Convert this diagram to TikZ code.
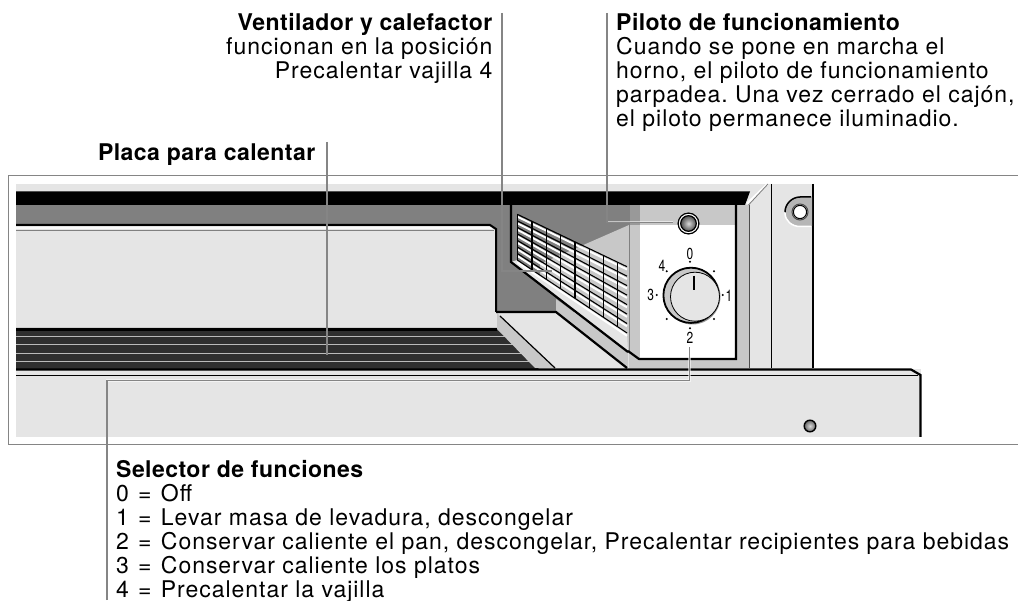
\documentclass[tikz,border=0pt]{standalone}
\usepackage{fontspec}
\setmainfont{TeX Gyre Heros}
\newfontfamily\reg[LetterSpace=4.2]{TeX Gyre Heros}
\newfontfamily\bld[LetterSpace=2.0]{TeX Gyre Heros Bold}
\newcommand{\eqsign}{\hspace{1.9pt}=\hspace{1.9pt}}
\definecolor{pale}{HTML}{E5E5E5}
\definecolor{midg}{HTML}{C8C8C8}
\definecolor{darkg}{HTML}{808080}
\definecolor{coal}{HTML}{2F2F2F}
\definecolor{leadg}{HTML}{858585}
\tikzset{
  labelbody/.style={inner sep=0pt,align=left,anchor=north west,font=\fontsize{23}{24}\selectfont\reg\frenchspacing},
  labelright/.style={inner sep=0pt,align=right,anchor=north east,font=\fontsize{23}{24}\selectfont\reg\frenchspacing},
  leader/.style={draw=leadg,line width=1.1pt,preaction={draw=white,line width=2.4pt,opacity=.55}},
  knobnum/.style={inner sep=0pt,font=\fontsize{16}{16}\selectfont},
  knobdot/.style={fill=black},
  thinblack/.style={draw=black,line width=1.2pt},
  thickblack/.style={draw=black,line width=2.2pt},
}
\begin{document}
\begin{tikzpicture}[x=1pt,y=-1pt]
\useasboundingbox (0,0) rectangle (1018,601);
% frame
\draw[draw=leadg,line width=1pt] (1018,176) -- (8.5,176) -- (8.5,445) -- (1018,445);
% base panels
\fill[pale] (16,184) rectangle (813,369);
\fill[pale] (16,369) rectangle (921,437);
% wall and band
\fill[darkg] (16,205) rectangle (629,312);
\fill[black] (16,191.5) -- (750,191.5) -- (745,205) -- (16,205) -- cycle;
% plate
\fill[pale] (16,226) -- (491,226) -- (496,230) -- (496,328) -- (16,328) -- cycle;
\fill[white!85!pale] (16,227) rectangle (492,229);
\draw[draw=black,line width=2pt] (16,225) -- (490,225) -- (496,229) -- (496,312);
\draw[draw=darkg,line width=.8pt] (16,230) -- (494,230);
% stripes
\fill[coal] (16,328) -- (497,328) -- (540,370) -- (16,370) -- cycle;
\fill[black] (16,328) rectangle (497,331);
\foreach \yy in {336,344.4,353.2,361.6}{\draw[draw=midg!80!darkg,line width=.9pt] (16,\yy) -- (540,\yy);}
% floor
\fill[pale] (497,313) -- (556,313) -- (626,368) -- (555,368) -- cycle;
\fill[midg] (497,313) -- (555,368) -- (535,368) -- (497,329) -- cycle;
\draw[thinblack] (500,316) -- (555,368);
\fill[midg] (556,299) -- (628,352) -- (628,368) -- (626,368) -- (556,312) -- cycle;
\draw[thickblack] (496,312) -- (556,312) -- (627,368);
% light wall
\fill[midg] (629,225) -- (540,264) -- (540,276) -- (629,352) -- cycle;
% band under grid
\fill[pale] (517.3,260) -- (627,333) -- (628,352) -- (511,262) -- cycle;
% grid
\foreach \i in {0,...,7}{
  \pgfmathsetmacro{\ya}{214.3+\i*45.7/7}
  \pgfmathsetmacro{\yb}{266.7+\i*66.3/7}
  \draw[draw=white,line width=1.9pt] (517.3,\ya+2.4) -- (627,\yb+2.8);
  \draw[draw=black,line width=1.1pt] (517.3,\ya) -- (627,\yb);
}
\foreach \xx in {517.3,532,546.7,560.7,575,589.3,603.7,617.7}{
  \draw[draw=black,line width=1.1pt] (\xx,{214.3+.4777*(\xx-517.3)}) -- (\xx,{260+.665*(\xx-517.3)});
}
\draw[thickblack,line join=miter] (511,205) -- (511,262) -- (628,352);
% control panel
\fill[midg] (629,205) rectangle (749,368);
\fill[darkg!65!midg] (629,205) rectangle (640,225);
\fill[white] (640,225) rectangle (736,359);
\fill[midg] (629,225) rectangle (640,352);
\fill[midg] (629,352) -- (640,359) -- (736,359) -- (736,368) -- (629,368) -- cycle;
\draw[draw=darkg,line width=.9pt] (629,205) -- (629,352);
\draw[thickblack] (628,351) -- (639,359) -- (736,359) -- (736,205);
\draw[draw=darkg!60!black,line width=.9pt] (749,205) -- (749,368);
% top right
\fill[white] (749,205) -- (746,203) -- (766,184) -- (769,184) -- cycle;
\draw[draw=darkg,line width=.9pt] (748.5,205) -- (768,184);
\draw[thinblack] (771.5,184) -- (771.5,368);
\draw[draw=black,line width=2pt] (813,184) -- (813,368);
% screw
\fill[midg!75!darkg] (812,197) -- (800,197) .. controls (792,197) and (785,204) .. (785,212) .. controls (785,220) and (792,226) .. (800,226) -- (812,226) -- cycle;
\draw[draw=black,line width=1.5pt] (811,197) -- (800,197) .. controls (792,197) and (785,204) .. (785,212);
\draw[draw=white,line width=1.5pt] (785,213) .. controls (785,221) and (792,226.5) .. (800,226.5) -- (811,226.5);
\draw[draw=black,line width=1pt,fill=white] (800,212) circle[radius=6.6pt];
\draw[draw=black!70,line width=1pt] (800,212) circle[radius=8pt];
% lower panel edges
\draw[draw=black,line width=2.2pt] (16,369.5) -- (911,369.5) -- (920.5,375) -- (920.5,437);
\draw[thinblack] (16,375.3) -- (918,375.3);
% lamps
\draw[draw=black,line width=1.4pt,inner color=white!85!black,outer color=darkg!80!black,shade] (810,426) circle[radius=5.8pt];
\fill[darkg!55!midg] (688.5,223.5) circle[radius=10.8pt];
\draw[draw=black,line width=1.2pt,fill=white] (688.5,223.5) circle[radius=10.4pt];
\draw[draw=black,line width=1.2pt,inner color=midg!70!white,outer color=darkg!60!black,shade] (688.5,223.5) circle[radius=7.8pt];
% knob
\fill[darkg!70!midg] (692.5,296.5) circle[radius=28pt];
\fill[midg] (691,295.3) circle[radius=28pt];
\draw[draw=black,line width=1.8pt] (691,295.3) circle[radius=27.6pt];
\draw[draw=black,line width=.8pt,fill=pale] (695,296.7) circle[radius=24.5pt];
\draw[draw=black,line width=2.6pt] (694,275.7) -- (694,290);
\foreach \px/\py in {690/261.7,666.7/271.3,656.7/295,722.7/295,690/328.3,714/271.3,714/319,666.7/319}{
  \fill[knobdot] (\px,\py) circle[radius=1.1pt];
}
\node[knobnum] (k0) at (690,253.5) {\scalebox{.75}[1]{0}};
\node[knobnum] (k4) at (662,265.7) {\scalebox{.75}[1]{4}};
\node[knobnum] (k3) at (650.7,294.5) {\scalebox{.75}[1]{3}};
\node[knobnum] (k1) at (729,295.5) {\scalebox{.75}[1]{1}};
\node[knobnum] (k2) at (690,337.7) {\scalebox{.75}[1]{2}};
% leader ends
\coordinate (lvtop) at (502,13);
\coordinate (lvc) at (502,271);
\coordinate (lvend) at (552,271);
\coordinate (lptop) at (607,13);
\coordinate (lpc) at (607,222.3);
\coordinate (lpend) at (673,222.3);
\coordinate (lctop) at (327,142);
\coordinate (lcend) at (327,355);
\coordinate (lsbot) at (107,600);
\coordinate (lsc) at (107,380.5);
\coordinate (lsc2) at (689.5,380.5);
\coordinate (lsend) at (689.5,347);
\path[leader] (lvtop) -- (lvc) -- (lvend);
\path[leader] (lptop) -- (lpc) -- (lpend);
\path[leader] (lctop) -- (lcend);
\path[leader] (lsbot) -- (lsc) -- (lsc2) -- (lsend);
% labels
\node[labelright] (vent) at (492.5,13.5) {{\bld Ventilador y calefactor}\\funcionan en la posición\\Precalentar vajilla 4};
\node[labelright] (placa) at (315.5,144) {{\bld Placa para calentar}};
\node[labelbody] (pil) at (616,13.5) {{\bld Piloto de funcionamiento}\\Cuando se pone en marcha el\\horno, el piloto de funcionamiento\\parpadea. Una vez cerrado el cajón,\\el piloto permanece iluminadio.};
\node[labelbody] (sel) at (116,460) {{\bld Selector de funciones}\\0 \eqsign{} Off\\1 \eqsign{} Levar masa de levadura, descongelar\\2 \eqsign{} Conservar caliente el pan, descongelar, Precalentar recipientes para bebidas\\3 \eqsign{} Conservar caliente los platos\\4 \eqsign{} Precalentar la vajilla};
\end{tikzpicture}
\end{document}
